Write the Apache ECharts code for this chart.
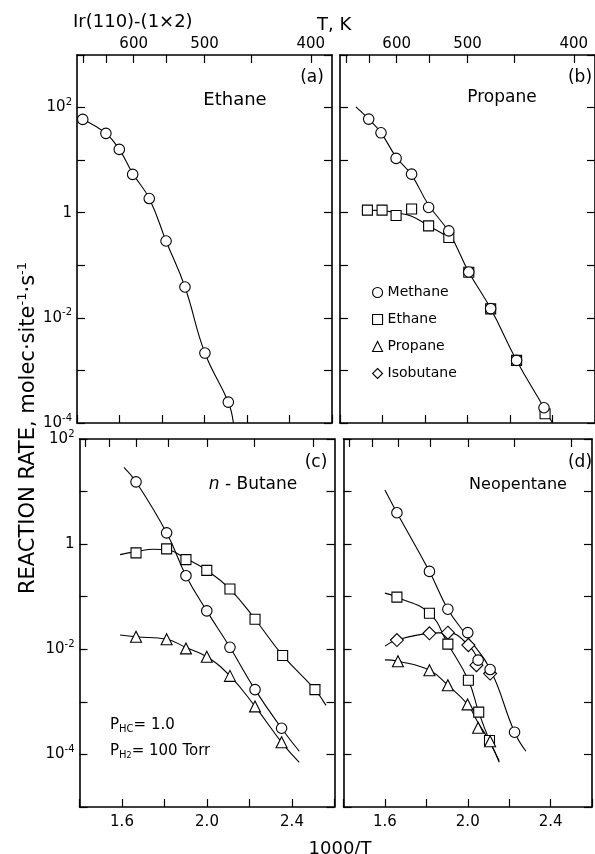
<!DOCTYPE html>
<html><head><meta charset="utf-8">
<script src="https://cdn.jsdelivr.net/npm/echarts@6/dist/echarts.min.js"></script>
<style>html,body{margin:0;padding:0;background:#fff}#c{width:595px;height:854px}</style>
</head><body><div id="c"></div>
<script>
// ---------- tick labels ----------
const xLabelValues = [1.6, 2.0, 2.4];
const tTickValues = [700, 650, 600, 550, 500, 450, 400];   // T, K
const tLabelValues = [600, 500, 400];
const topYTicks = [1e-4, 1e-3, 1e-2, 1e-1, 1, 10, 100, 1000];
const bottomYTicks = [1e-5, 1e-4, 1e-3, 1e-2, 1e-1, 1, 10, 100];
const yLabelValues = [1e-4, 1e-2, 1, 100];
const yLabelTexts = ['{b|10}{s|-4}', '{b|10}{s|-2}', '{b|1}', '{b|10}{s|2}'];

// ---------- (a) Ethane ----------
const aEthaneX = [1.427, 1.536, 1.599, 1.662, 1.740, 1.819, 1.908, 2.002, 2.112];
const aEthaneY = [59.6, 32.3, 16.0, 5.35, 1.86, 0.290, 0.0386, 0.00214, 0.000249];
const aCurveX = [1.427, 1.536, 1.599, 1.662, 1.740, 1.819, 1.908, 2.002, 2.112, 2.136];
const aCurveY = [59.6, 32.3, 16.0, 5.6, 1.86, 0.290, 0.0386, 0.00214, 0.000249, 0.0001];

// ---------- (b) Propane ----------
const bMethaneX = [1.535, 1.593, 1.664, 1.737, 1.817, 1.912, 2.006, 2.109, 2.231, 2.360];
const bMethaneY = [60.4, 33.1, 10.8, 5.41, 1.26, 0.451, 0.0746, 0.0150, 0.00155, 0.000195];
const bMethaneCurveX = [1.475, 1.535, 1.593, 1.664, 1.737, 1.817, 1.912, 2.006, 2.109, 2.231, 2.360, 2.400];
const bMethaneCurveY = [103.5, 60.4, 33.1, 11.5, 5.2, 1.4, 0.43, 0.0746, 0.0150, 0.00155, 0.000195, 0.0001];
const bEthaneX = [1.529, 1.598, 1.664, 1.737, 1.817, 1.912, 2.006, 2.109, 2.231, 2.365];
const bEthaneY = [1.12, 1.12, 0.883, 1.18, 0.561, 0.337, 0.0736, 0.0148, 0.00155, 0.000150];
const bEthaneCurveX = [1.505, 1.600, 1.664, 1.737, 1.817, 1.900, 1.933];
const bEthaneCurveY = [1.12, 1.10, 0.99, 0.86, 0.56, 0.36, 0.28];

// ---------- (c) n-Butane ----------
const cMethaneX = [1.666, 1.810, 1.901, 1.999, 2.108, 2.226, 2.351];
const cMethaneY = [15.3, 1.64, 0.251, 0.0537, 0.0109, 0.00171, 0.000315];
const cMethaneCurveX = [1.609, 1.666, 1.810, 1.901, 1.999, 2.108, 2.226, 2.351, 2.434];
const cMethaneCurveY = [28.8, 15.3, 1.64, 0.251, 0.0537, 0.0109, 0.00171, 0.000315, 0.000115];
const cEthaneX = [1.666, 1.810, 1.901, 1.999, 2.108, 2.226, 2.356, 2.508];
const cEthaneY = [0.682, 0.813, 0.508, 0.317, 0.140, 0.0373, 0.00764, 0.00171];
const cEthaneCurveX = [1.591, 1.666, 1.750, 1.810, 1.901, 1.999, 2.108, 2.226, 2.356, 2.508, 2.560];
const cEthaneCurveY = [0.632, 0.72, 0.80, 0.78, 0.53, 0.317, 0.140, 0.0373, 0.00764, 0.00171, 0.000857];
const cPropaneX = [1.666, 1.810, 1.901, 1.999, 2.108, 2.226, 2.351];
const cPropaneY = [0.0173, 0.0155, 0.0104, 0.00719, 0.00312, 0.000820, 0.000170];
const cPropaneCurveX = [1.591, 1.666, 1.810, 1.901, 1.999, 2.108, 2.226, 2.351, 2.434];
const cPropaneCurveY = [0.0187, 0.0173, 0.0155, 0.0108, 0.00719, 0.00312, 0.000820, 0.000170, 0.0000708];

// ---------- (d) Neopentane ----------
const dMethaneX = [1.658, 1.815, 1.904, 2.000, 2.050, 2.108, 2.226];
const dMethaneY = [3.96, 0.303, 0.0579, 0.0207, 0.00621, 0.00412, 0.000265];
const dMethaneCurveX = [1.600, 1.658, 1.815, 1.904, 2.000, 2.108, 2.226, 2.281];
const dMethaneCurveY = [10.7, 3.96, 0.303, 0.0579, 0.0170, 0.0042, 0.000265, 0.000115];
const dEthaneX = [1.658, 1.815, 1.904, 2.003, 2.053, 2.105];
const dEthaneY = [0.0982, 0.0485, 0.01256, 0.00258, 0.000638, 0.000184];
const dEthaneCurveX = [1.600, 1.658, 1.815, 1.904, 2.003, 2.053, 2.105, 2.152];
const dEthaneCurveY = [0.117, 0.0982, 0.0485, 0.01256, 0.00258, 0.000638, 0.000184, 0.0000759];
const dPropaneX = [1.663, 1.815, 1.904, 1.999, 2.050, 2.108];
const dPropaneY = [0.00594, 0.00400, 0.00207, 0.000895, 0.000321, 0.000178];
const dPropaneCurveX = [1.600, 1.663, 1.815, 1.904, 1.999, 2.050, 2.108, 2.152];
const dPropaneCurveY = [0.0063, 0.00594, 0.00400, 0.00207, 0.000895, 0.000400, 0.000170, 0.0000708];
const dIsobutaneX = [1.658, 1.815, 1.904, 2.003, 2.042, 2.108];
const dIsobutaneY = [0.0150, 0.0201, 0.0207, 0.0120, 0.00499, 0.00346];
const dIsobutaneCurveX = [1.600, 1.658, 1.815, 1.904, 2.003, 2.050];
const dIsobutaneCurveY = [0.0115, 0.0150, 0.0201, 0.0207, 0.0120, 0.0062];

// ---------- build ----------
const FONT = 'DejaVu Sans';
const chart = echarts.init(document.getElementById('c'), null, {renderer: 'canvas'});
const zip = (xs, ys) => xs.map((x, i) => [x, ys[i]]);
const grids = [
  {left: 77, top: 55, width: 255, height: 368},
  {left: 340, top: 55, width: 256, height: 368},
  {left: 79.5, top: 439, width: 255, height: 368},
  {left: 343.5, top: 439, width: 256, height: 368}
];
const near = (a, b) => Math.abs(a - b) < 1e-6;
const axisLineStyle = {show: true, onZero: false, lineStyle: {color: '#000', width: 1.6}};
const tickStyle = {color: '#000', width: 1.2};
const xAxes = [], yAxes = [];
grids.forEach((g, i) => {
  const bottomRow = i >= 2;
  xAxes.push({
    type: 'value', gridIndex: i, position: 'bottom', min: 1.4, max: 2.6, interval: 0.2,
    axisLine: axisLineStyle,
    axisTick: {show: true, inside: true, length: 8, lineStyle: tickStyle},
    axisLabel: {show: bottomRow, margin: 8, color: '#000', fontFamily: FONT, fontSize: 15,
      formatter: v => xLabelValues.some(u => near(u, v)) ? v.toFixed(1) : ''},
    splitLine: {show: false}
  });
  xAxes.push({
    type: 'value', gridIndex: i, position: 'top', min: 1.4, max: 2.6,
    axisLine: axisLineStyle,
    axisTick: {show: true, inside: true, length: 8, lineStyle: tickStyle,
      customValues: tTickValues.map(t => 1000 / t)},
    axisLabel: {show: !bottomRow, margin: 3, color: '#000', fontFamily: FONT, fontSize: 15,
      customValues: tLabelValues.map(t => 1000 / t),
      formatter: v => String(Math.round(1000 / v))},
    splitLine: {show: false}
  });
  const ticks = bottomRow ? bottomYTicks : topYTicks;
  const leftCol = (i === 0 || i === 2);
  ['left', 'right'].forEach(pos => {
    yAxes.push({
      type: 'log', logBase: 10, gridIndex: i, position: pos,
      min: ticks[0], max: ticks[ticks.length - 1],
      axisLine: axisLineStyle,
      axisTick: {show: true, inside: true, length: 8, lineStyle: tickStyle, customValues: ticks},
      axisLabel: {show: pos === 'left' && leftCol, margin: 5, color: '#000',
        customValues: yLabelValues,
        formatter: v => { const k = yLabelValues.findIndex(u => Math.abs(u - v) / u < 1e-6); return k >= 0 ? yLabelTexts[k] : ''; },
        rich: {
          b: {fontFamily: FONT, fontSize: 15, lineHeight: 20, color: '#000', verticalAlign: 'middle'},
          s: {fontFamily: FONT, fontSize: 10, lineHeight: 10, color: '#000', verticalAlign: 'top'}
        }},
      splitLine: {show: false}
    });
  });
});

const markerStyle = {color: '#fff', borderColor: '#000', borderWidth: 1.1, opacity: 1};
function pts(name, g, xs, ys, symbol, size) {
  return {type: 'scatter', name, xAxisIndex: 2 * g, yAxisIndex: 2 * g, data: zip(xs, ys),
    symbol, symbolSize: size, itemStyle: markerStyle, z: 4, silent: true};
}
function curve(g, xs, ys) {
  return {type: 'line', name: '_curve', xAxisIndex: 2 * g, yAxisIndex: 2 * g, data: zip(xs, ys),
    showSymbol: false, symbol: 'none', smooth: 0.45, clip: true,
    lineStyle: {color: '#000', width: 1.1}, z: 2, silent: true};
}
const CS = 10.5, RS = 10, TS = 11, DS = 13;
const series = [
  curve(0, aCurveX, aCurveY), pts('Methane', 0, aEthaneX, aEthaneY, 'circle', CS),
  curve(1, bMethaneCurveX, bMethaneCurveY), curve(1, bEthaneCurveX, bEthaneCurveY),
  pts('Ethane', 1, bEthaneX, bEthaneY, 'rect', RS), pts('Methane', 1, bMethaneX, bMethaneY, 'circle', CS),
  curve(2, cMethaneCurveX, cMethaneCurveY), curve(2, cEthaneCurveX, cEthaneCurveY), curve(2, cPropaneCurveX, cPropaneCurveY),
  pts('Methane', 2, cMethaneX, cMethaneY, 'circle', CS), pts('Ethane', 2, cEthaneX, cEthaneY, 'rect', RS),
  pts('Propane', 2, cPropaneX, cPropaneY, 'triangle', TS),
  curve(3, dMethaneCurveX, dMethaneCurveY), curve(3, dEthaneCurveX, dEthaneCurveY),
  curve(3, dPropaneCurveX, dPropaneCurveY), curve(3, dIsobutaneCurveX, dIsobutaneCurveY),
  pts('Isobutane', 3, dIsobutaneX, dIsobutaneY, 'diamond', DS), pts('Methane', 3, dMethaneX, dMethaneY, 'circle', CS),
  pts('Ethane', 3, dEthaneX, dEthaneY, 'rect', RS), pts('Propane', 3, dPropaneX, dPropaneY, 'triangle', TS)
];

function txt(x, y, text, size, align) {
  return {type: 'text', x, y, silent: true, style: {
    text, fill: '#000', font: size + 'px "' + FONT + '"', fontSize: size, fontFamily: FONT,
    align: align || 'left', verticalAlign: 'middle', textAlign: align || 'left', textVerticalAlign: 'middle'
  }};
}
const subRich = {
  p: {fontFamily: FONT, fontSize: 15, lineHeight: 18, fill: '#000'},
  u: {fontFamily: FONT, fontSize: 10, lineHeight: 10, verticalAlign: 'bottom', fill: '#000'},
  v: {fontFamily: FONT, fontSize: 8, lineHeight: 4, verticalAlign: 'bottom', fill: '#000'}
};
const graphics = [
  txt(73, 22, 'Ir(110)-(1×2)', 18),
  txt(317, 25, 'T, K', 18),
  txt(312, 78, '(a)', 17, 'center'), txt(580, 78, '(b)', 17, 'center'),
  txt(316, 463, '(c)', 17, 'center'), txt(580, 463, '(d)', 17, 'center'),
  txt(235, 100, 'Ethane', 18, 'center'), txt(502, 98, 'Propane', 17, 'center'),
  txt(518, 485, 'Neopentane', 16, 'center'),
  {type: 'text', x: 253, y: 485, silent: true, style: {text: '{i|n}{t| - Butane}', align: 'center', verticalAlign: 'middle',
    rich: {i: {fontFamily: FONT, fontSize: 17, fontStyle: 'italic', fill: '#000'}, t: {fontFamily: FONT, fontSize: 17, fill: '#000'}}}},
  {type: 'text', x: 110, y: 725, silent: true, style: {text: '{p|P}{u|HC}{p|= 1.0}', align: 'left', verticalAlign: 'middle', rich: subRich}},
  {type: 'text', x: 110, y: 751, silent: true, style: {text: '{p|P}{u|H}{v|2}{p|= 100 Torr}', align: 'left', verticalAlign: 'middle', rich: subRich}},
  {type: 'text', x: 29, y: 428, rotation: Math.PI / 2, silent: true, style: {
    text: '{t|REACTION RATE, molec·site}{s|-1}{t|·s}{s|-1}', align: 'center', verticalAlign: 'middle',
    rich: {t: {fontFamily: FONT, fontSize: 21, lineHeight: 26, fill: '#000'}, s: {fontFamily: FONT, fontSize: 13, lineHeight: 13, verticalAlign: 'top', fill: '#000'}}}},
  txt(340, 849, '1000/T', 18, 'center')
];

chart.setOption({
  animation: false,
  backgroundColor: '#fff',
  grid: grids,
  xAxis: xAxes,
  yAxis: yAxes,
  legend: {
    show: true, selectedMode: false, orient: 'vertical', left: 367, top: 279,
    itemWidth: 10, itemHeight: 10, itemGap: 10, itemStyle: {borderColor: '#000', borderWidth: 1.1, color: '#fff'},
    textStyle: {fontFamily: FONT, fontSize: 14, color: '#000', lineHeight: 17},
    data: [{name: 'Methane', icon: 'circle'}, {name: 'Ethane', icon: 'rect'},
           {name: 'Propane', icon: 'triangle'}, {name: 'Isobutane', icon: 'diamond'}]
  },
  graphic: graphics,
  series
});
</script></body></html>
